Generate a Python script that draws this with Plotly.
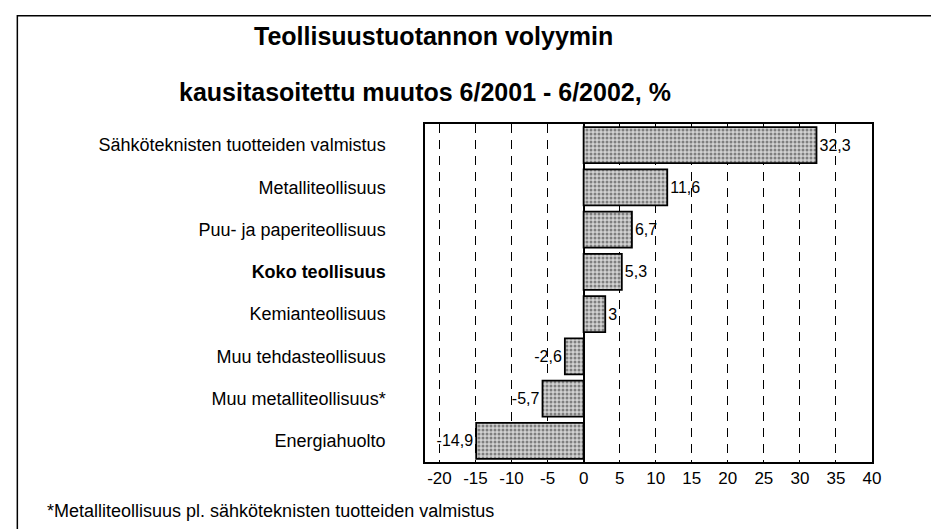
import plotly.graph_objects as go

# Data
categories = [
    "Sähköteknisten tuotteiden valmistus",
    "Metalliteollisuus",
    "Puu- ja paperiteollisuus",
    "<b>Koko teollisuus</b>",
    "Kemianteollisuus",
    "Muu tehdasteollisuus",
    "Muu metalliteollisuus*",
    "Energiahuolto",
]
values = [32.3, 11.6, 6.7, 5.3, 3, -2.6, -5.7, -14.9]
x_ticks = [-20, -15, -10, -5, 0, 5, 10, 15, 20, 25, 30, 35, 40]

title_line1 = "Teollisuustuotannon volyymin"
title_line2 = "kausitasoitettu muutos 6/2001 - 6/2002, %"
footnote = "*Metalliteollisuus pl. sähköteknisten tuotteiden valmistus"

labels = [f"{v:g}".replace(".", ",") for v in values]

FONT = "Arial, Liberation Sans, sans-serif"

fig = go.Figure()
fig.add_trace(go.Bar(
    x=values,
    y=categories,
    orientation="h",
    text=labels,
    textposition="outside",
    textfont=dict(family=FONT, size=16, color="black"),
    cliponaxis=False,
    marker=dict(
        color="#d2d2d2",
        pattern=dict(shape=".", fgcolor="#2a2a2a", size=4, solidity=0.45),
        line=dict(color="black", width=1.8),
    ),
    hoverinfo="skip",
))

fig.update_layout(
    width=931,
    height=521,
    margin=dict(l=417, r=67, t=116, b=67),
    paper_bgcolor="white",
    plot_bgcolor="white",
    showlegend=False,
    bargap=0.15,
    font=dict(family=FONT, size=18, color="black"),
)

fig.update_xaxes(
    range=[-22, 40],
    tickvals=x_ticks,
    ticktext=[str(t) for t in x_ticks],
    tickfont=dict(family=FONT, size=17, color="black"),
    showgrid=True,
    gridcolor="black",
    gridwidth=1.2,
    griddash="9px,7px",
    zeroline=True,
    zerolinecolor="black",
    zerolinewidth=1.5,
    showline=True,
    linecolor="black",
    linewidth=1.5,
    mirror=True,
    ticks="",
)
fig.update_yaxes(
    autorange="reversed",
    tickfont=dict(family=FONT, size=18, color="black"),
    showgrid=False,
    showline=True,
    linecolor="black",
    linewidth=1.5,
    mirror=True,
    ticks="",
    ticklabelstandoff=34,
)

# Outer frame of the figure
fig.add_shape(type="rect", xref="paper", yref="paper",
              x0=-0.912, x1=1.3, y0=-0.3, y1=1.32,
              line=dict(color="black", width=1.5), fillcolor="rgba(0,0,0,0)",
              layer="below")

fig.add_annotation(text=f"<b>{title_line1}</b>", xref="paper", yref="paper",
                   x=0.02, y=1.26, showarrow=False, xanchor="center", yanchor="middle",
                   font=dict(family=FONT, size=25, color="black"))
fig.add_annotation(text=f"<b>{title_line2}</b>", xref="paper", yref="paper",
                   x=0.0, y=1.095, showarrow=False, xanchor="center", yanchor="middle",
                   font=dict(family=FONT, size=25, color="black"))
fig.add_annotation(text=footnote, xref="paper", yref="paper",
                   x=-0.85, y=-0.145, showarrow=False, xanchor="left", yanchor="middle",
                   font=dict(family=FONT, size=18, color="black"))

fig.write_html("out.html")
